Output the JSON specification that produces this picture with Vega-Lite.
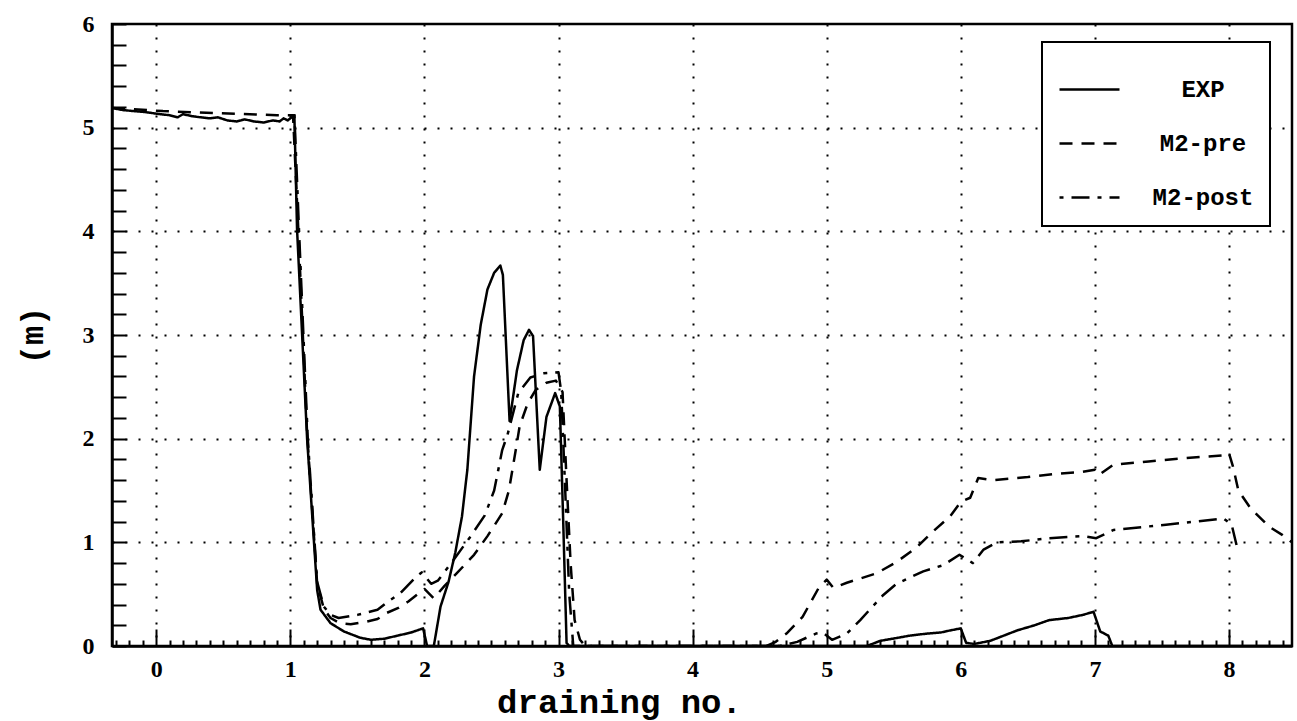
{
  "$schema": "https://vega.github.io/schema/vega-lite/v6.json",
  "width": 1180,
  "height": 622,
  "autosize": {"type": "none"},
  "padding": {"left": 112, "top": 24, "right": 5, "bottom": 75},
  "background": "white",
  "config": {
    "view": {"stroke": "black", "strokeWidth": 2.5},
    "axis": {"labelColor": "black", "titleColor": "black", "tickColor": "black", "domainColor": "black", "domainWidth": 2.5, "tickWidth": 2},
    "legend": {"strokeWidth": 2}
  },
  "data": {"values": [
    {"s":"EXP","x":-0.33,"y":5.19},{"s":"EXP","x":-0.25,"y":5.17},{"s":"EXP","x":-0.17,"y":5.16},{"s":"EXP","x":-0.08,"y":5.15},
    {"s":"EXP","x":0.03,"y":5.13},{"s":"EXP","x":0.1,"y":5.12},{"s":"EXP","x":0.16,"y":5.1},{"s":"EXP","x":0.2,"y":5.13},
    {"s":"EXP","x":0.27,"y":5.11},{"s":"EXP","x":0.33,"y":5.1},{"s":"EXP","x":0.4,"y":5.09},{"s":"EXP","x":0.46,"y":5.1},
    {"s":"EXP","x":0.53,"y":5.07},{"s":"EXP","x":0.6,"y":5.06},{"s":"EXP","x":0.66,"y":5.08},{"s":"EXP","x":0.73,"y":5.06},
    {"s":"EXP","x":0.8,"y":5.05},{"s":"EXP","x":0.87,"y":5.07},{"s":"EXP","x":0.92,"y":5.06},{"s":"EXP","x":0.95,"y":5.09},
    {"s":"EXP","x":0.98,"y":5.07},{"s":"EXP","x":1.01,"y":5.1},{"s":"EXP","x":1.03,"y":5.12},{"s":"EXP","x":1.05,"y":4.02},
    {"s":"EXP","x":1.125,"y":2.0},{"s":"EXP","x":1.2,"y":0.54},{"s":"EXP","x":1.225,"y":0.35},{"s":"EXP","x":1.3,"y":0.22},
    {"s":"EXP","x":1.4,"y":0.14},{"s":"EXP","x":1.52,"y":0.08},{"s":"EXP","x":1.6,"y":0.06},{"s":"EXP","x":1.7,"y":0.07},
    {"s":"EXP","x":1.8,"y":0.1},{"s":"EXP","x":1.9,"y":0.13},{"s":"EXP","x":1.99,"y":0.17},{"s":"EXP","x":2.02,"y":0.0},
    {"s":"EXP","x":2.07,"y":0.0},{"s":"EXP","x":2.12,"y":0.38},{"s":"EXP","x":2.18,"y":0.62},{"s":"EXP","x":2.23,"y":0.9},
    {"s":"EXP","x":2.28,"y":1.25},{"s":"EXP","x":2.32,"y":1.7},{"s":"EXP","x":2.37,"y":2.6},{"s":"EXP","x":2.42,"y":3.1},
    {"s":"EXP","x":2.47,"y":3.44},{"s":"EXP","x":2.52,"y":3.6},{"s":"EXP","x":2.566,"y":3.67},{"s":"EXP","x":2.585,"y":3.58},
    {"s":"EXP","x":2.635,"y":2.17},{"s":"EXP","x":2.69,"y":2.66},{"s":"EXP","x":2.74,"y":2.95},{"s":"EXP","x":2.78,"y":3.05},
    {"s":"EXP","x":2.81,"y":2.99},{"s":"EXP","x":2.86,"y":1.7},{"s":"EXP","x":2.91,"y":2.21},{"s":"EXP","x":2.975,"y":2.44},
    {"s":"EXP","x":3.01,"y":2.31},{"s":"EXP","x":3.035,"y":1.2},{"s":"EXP","x":3.06,"y":0.03},{"s":"EXP","x":3.08,"y":0.0},
    {"s":"EXP","x":5.3,"y":0.0},{"s":"EXP","x":5.4,"y":0.05},{"s":"EXP","x":5.49,"y":0.07},{"s":"EXP","x":5.62,"y":0.1},
    {"s":"EXP","x":5.75,"y":0.12},{"s":"EXP","x":5.85,"y":0.13},{"s":"EXP","x":5.92,"y":0.15},{"s":"EXP","x":6.0,"y":0.17},
    {"s":"EXP","x":6.04,"y":0.03},{"s":"EXP","x":6.1,"y":0.02},{"s":"EXP","x":6.22,"y":0.05},{"s":"EXP","x":6.32,"y":0.1},
    {"s":"EXP","x":6.42,"y":0.15},{"s":"EXP","x":6.55,"y":0.2},{"s":"EXP","x":6.66,"y":0.25},{"s":"EXP","x":6.8,"y":0.27},
    {"s":"EXP","x":6.91,"y":0.3},{"s":"EXP","x":6.99,"y":0.33},{"s":"EXP","x":7.04,"y":0.14},{"s":"EXP","x":7.1,"y":0.1},
    {"s":"EXP","x":7.13,"y":0.0},{"s":"EXP","x":8.47,"y":0.0},

    {"s":"M2-pre","x":-0.33,"y":5.19},{"s":"M2-pre","x":0.05,"y":5.16},{"s":"M2-pre","x":0.45,"y":5.14},{"s":"M2-pre","x":0.9,"y":5.12},
    {"s":"M2-pre","x":1.02,"y":5.12},{"s":"M2-pre","x":1.06,"y":4.0},{"s":"M2-pre","x":1.125,"y":2.05},{"s":"M2-pre","x":1.2,"y":0.6},
    {"s":"M2-pre","x":1.25,"y":0.36},{"s":"M2-pre","x":1.3,"y":0.27},{"s":"M2-pre","x":1.37,"y":0.22},{"s":"M2-pre","x":1.45,"y":0.21},
    {"s":"M2-pre","x":1.55,"y":0.23},{"s":"M2-pre","x":1.65,"y":0.26},{"s":"M2-pre","x":1.72,"y":0.32},{"s":"M2-pre","x":1.81,"y":0.37},
    {"s":"M2-pre","x":1.88,"y":0.43},{"s":"M2-pre","x":1.96,"y":0.51},{"s":"M2-pre","x":2.0,"y":0.55},{"s":"M2-pre","x":2.07,"y":0.46},
    {"s":"M2-pre","x":2.15,"y":0.58},{"s":"M2-pre","x":2.24,"y":0.7},{"s":"M2-pre","x":2.37,"y":0.88},{"s":"M2-pre","x":2.47,"y":1.06},
    {"s":"M2-pre","x":2.58,"y":1.28},{"s":"M2-pre","x":2.63,"y":1.5},{"s":"M2-pre","x":2.66,"y":1.73},{"s":"M2-pre","x":2.69,"y":1.96},
    {"s":"M2-pre","x":2.71,"y":2.12},{"s":"M2-pre","x":2.77,"y":2.34},{"s":"M2-pre","x":2.83,"y":2.47},{"s":"M2-pre","x":2.91,"y":2.54},
    {"s":"M2-pre","x":2.98,"y":2.56},{"s":"M2-pre","x":3.03,"y":2.45},{"s":"M2-pre","x":3.06,"y":1.6},{"s":"M2-pre","x":3.09,"y":0.8},
    {"s":"M2-pre","x":3.12,"y":0.25},{"s":"M2-pre","x":3.16,"y":0.06},{"s":"M2-pre","x":3.2,"y":0.0},{"s":"M2-pre","x":4.55,"y":0.0},
    {"s":"M2-pre","x":4.62,"y":0.04},{"s":"M2-pre","x":4.7,"y":0.12},{"s":"M2-pre","x":4.82,"y":0.28},{"s":"M2-pre","x":4.94,"y":0.56},
    {"s":"M2-pre","x":5.0,"y":0.64},{"s":"M2-pre","x":5.05,"y":0.56},{"s":"M2-pre","x":5.15,"y":0.61},{"s":"M2-pre","x":5.37,"y":0.7},
    {"s":"M2-pre","x":5.52,"y":0.81},{"s":"M2-pre","x":5.67,"y":0.95},{"s":"M2-pre","x":5.78,"y":1.09},{"s":"M2-pre","x":5.92,"y":1.25},
    {"s":"M2-pre","x":6.0,"y":1.39},{"s":"M2-pre","x":6.07,"y":1.43},{"s":"M2-pre","x":6.13,"y":1.62},{"s":"M2-pre","x":6.24,"y":1.6},
    {"s":"M2-pre","x":6.5,"y":1.63},{"s":"M2-pre","x":6.7,"y":1.66},{"s":"M2-pre","x":6.91,"y":1.68},{"s":"M2-pre","x":7.0,"y":1.7},
    {"s":"M2-pre","x":7.03,"y":1.65},{"s":"M2-pre","x":7.14,"y":1.75},{"s":"M2-pre","x":7.4,"y":1.78},{"s":"M2-pre","x":7.66,"y":1.81},
    {"s":"M2-pre","x":7.96,"y":1.84},{"s":"M2-pre","x":8.0,"y":1.86},{"s":"M2-pre","x":8.03,"y":1.73},{"s":"M2-pre","x":8.07,"y":1.5},
    {"s":"M2-pre","x":8.16,"y":1.33},{"s":"M2-pre","x":8.3,"y":1.15},{"s":"M2-pre","x":8.4,"y":1.07},{"s":"M2-pre","x":8.47,"y":1.0},

    {"s":"M2-post","x":1.03,"y":5.13},{"s":"M2-post","x":1.065,"y":4.0},{"s":"M2-post","x":1.13,"y":2.0},{"s":"M2-post","x":1.2,"y":0.62},
    {"s":"M2-post","x":1.25,"y":0.38},{"s":"M2-post","x":1.3,"y":0.3},{"s":"M2-post","x":1.36,"y":0.27},{"s":"M2-post","x":1.5,"y":0.3},
    {"s":"M2-post","x":1.65,"y":0.35},{"s":"M2-post","x":1.73,"y":0.43},{"s":"M2-post","x":1.82,"y":0.51},{"s":"M2-post","x":1.94,"y":0.67},
    {"s":"M2-post","x":1.98,"y":0.71},{"s":"M2-post","x":2.05,"y":0.6},{"s":"M2-post","x":2.1,"y":0.63},{"s":"M2-post","x":2.2,"y":0.8},
    {"s":"M2-post","x":2.34,"y":1.05},{"s":"M2-post","x":2.45,"y":1.26},{"s":"M2-post","x":2.52,"y":1.5},{"s":"M2-post","x":2.58,"y":1.89},
    {"s":"M2-post","x":2.62,"y":2.04},{"s":"M2-post","x":2.7,"y":2.44},{"s":"M2-post","x":2.79,"y":2.59},{"s":"M2-post","x":2.89,"y":2.63},
    {"s":"M2-post","x":3.0,"y":2.64},{"s":"M2-post","x":3.02,"y":2.45},{"s":"M2-post","x":3.05,"y":1.5},{"s":"M2-post","x":3.08,"y":0.5},
    {"s":"M2-post","x":3.11,"y":0.0},{"s":"M2-post","x":4.65,"y":0.0},{"s":"M2-post","x":4.78,"y":0.04},{"s":"M2-post","x":4.92,"y":0.12},
    {"s":"M2-post","x":4.97,"y":0.13},{"s":"M2-post","x":5.04,"y":0.06},{"s":"M2-post","x":5.15,"y":0.12},{"s":"M2-post","x":5.25,"y":0.25},
    {"s":"M2-post","x":5.42,"y":0.49},{"s":"M2-post","x":5.52,"y":0.6},{"s":"M2-post","x":5.72,"y":0.72},{"s":"M2-post","x":5.87,"y":0.78},
    {"s":"M2-post","x":5.99,"y":0.88},{"s":"M2-post","x":6.09,"y":0.8},{"s":"M2-post","x":6.17,"y":0.93},{"s":"M2-post","x":6.27,"y":1.0},
    {"s":"M2-post","x":6.45,"y":1.01},{"s":"M2-post","x":6.66,"y":1.04},{"s":"M2-post","x":6.91,"y":1.06},{"s":"M2-post","x":7.01,"y":1.04},
    {"s":"M2-post","x":7.14,"y":1.12},{"s":"M2-post","x":7.53,"y":1.17},{"s":"M2-post","x":7.75,"y":1.2},{"s":"M2-post","x":7.96,"y":1.23},
    {"s":"M2-post","x":8.02,"y":1.17},{"s":"M2-post","x":8.07,"y":0.9}
  ]},
  "mark": {"type": "line", "strokeWidth": 2.5, "color": "black", "clip": true, "strokeJoin": "round"},
  "encoding": {
    "x": {
      "field": "x", "type": "quantitative",
      "scale": {"domain": [-0.33, 8.47], "nice": false, "zero": false},
      "axis": {
        "values": [-0.3,-0.2,-0.1,0,0.1,0.2,0.3,0.4,0.5,0.6,0.7,0.8,0.9,1,1.1,1.2,1.3,1.4,1.5,1.6,1.7,1.8,1.9,2,2.1,2.2,2.3,2.4,2.5,2.6,2.7,2.8,2.9,3,3.1,3.2,3.3,3.4,3.5,3.6,3.7,3.8,3.9,4,4.1,4.2,4.3,4.4,4.5,4.6,4.7,4.8,4.9,5,5.1,5.2,5.3,5.4,5.5,5.6,5.7,5.8,5.9,6,6.1,6.2,6.3,6.4,6.5,6.6,6.7,6.8,6.9,7,7.1,7.2,7.3,7.4,7.5,7.6,7.7,7.8,7.9,8,8.1,8.2,8.3,8.4],
        "labelExpr": "abs(datum.value-round(datum.value))<0.001 ? format(datum.value,'d') : ''",
        "labelFont": "Liberation Serif", "labelFontWeight": "bold", "labelFontSize": 24, "labelPadding": 28,
        "labelFlush": false, "labelOverlap": false,
        "tickSize": {"condition": {"test": "abs(datum.value-round(datum.value))<0.001", "value": -17}, "value": -6},
        "grid": true, "gridColor": "black", "gridDash": [2, 11], "gridWidth": 2,
        "gridOpacity": {"condition": {"test": "abs(datum.value-round(datum.value))<0.001", "value": 1}, "value": 0},
        "title": "draining no.", "titleFont": "Liberation Mono", "titleFontWeight": "bold", "titleFontSize": 34,
        "titleX": 507, "titleY": 66, "titleAlign": "center", "titleBaseline": "alphabetic"
      }
    },
    "y": {
      "field": "y", "type": "quantitative",
      "scale": {"domain": [0, 6], "nice": false, "zero": false},
      "axis": {
        "values": [0,0.2,0.4,0.6,0.8,1,1.2,1.4,1.6,1.8,2,2.2,2.4,2.6,2.8,3,3.2,3.4,3.6,3.8,4,4.2,4.4,4.6,4.8,5,5.2,5.4,5.6,5.8,6],
        "labelExpr": "abs(datum.value-round(datum.value))<0.001 ? format(datum.value,'d') : ''",
        "labelFont": "Liberation Serif", "labelFontWeight": "bold", "labelFontSize": 24, "labelPadding": 32,
        "labelFlush": false, "labelOverlap": false,
        "tickSize": -14,
        "grid": true, "gridColor": "black", "gridDash": [2, 11], "gridWidth": 2,
        "gridOpacity": {"condition": {"test": "abs(datum.value-round(datum.value))<0.001 && datum.value>0.5 && datum.value<5.5", "value": 1}, "value": 0},
        "title": "(m)", "titleFont": "Liberation Mono", "titleFontWeight": "bold", "titleFontSize": 32,
        "titleX": -80, "titleY": 311, "titleAlign": "center", "titleBaseline": "middle"
      }
    },
    "strokeDash": {
      "field": "s", "type": "nominal",
      "scale": {"domain": ["EXP", "M2-pre", "M2-post"], "range": [[1, 0], [13, 9], [4, 8, 18, 8]]},
      "legend": {
        "title": null, "orient": "none", "legendX": 930, "legendY": 18,
        "strokeColor": "black", "padding": 16, "fillColor": "white",
        "symbolType": "stroke", "symbolSize": 3600, "symbolStrokeWidth": 2.5, "symbolStrokeColor": "black",
        "labelFont": "Liberation Mono", "labelFontWeight": "bold", "labelFontSize": 24, "labelColor": "black",
        "labelAlign": "center", "labelOffset": 82, "rowPadding": 10
      }
    }
  }
}
